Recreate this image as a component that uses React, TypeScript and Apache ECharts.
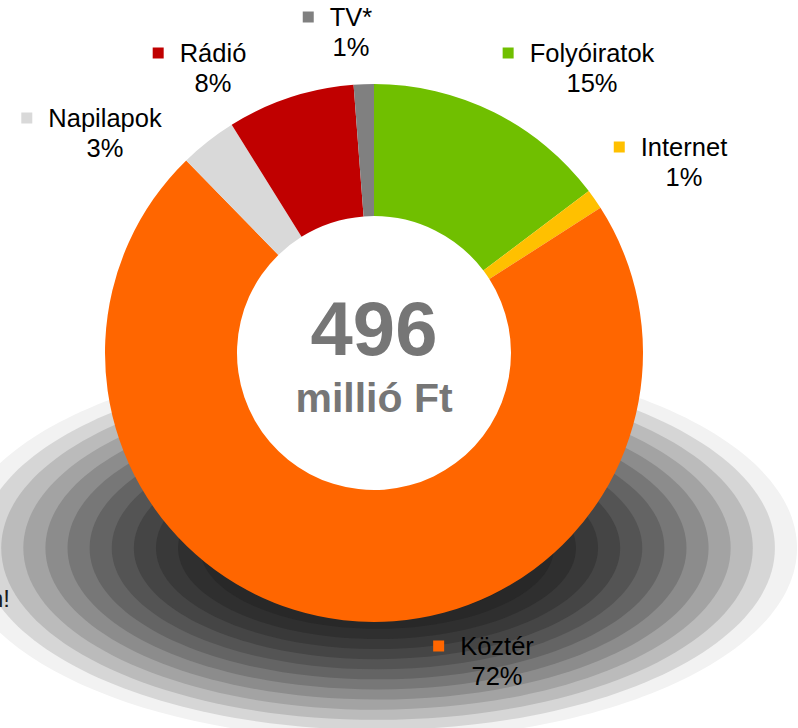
import React, { useEffect, useRef } from "react";
import * as echarts from "echarts";

const names = ["Folyóiratok", "Internet", "Köztér", "Napilapok", "Rádió", "TV*"];
const values = [73, 6, 356, 17, 38, 6]; // millió Ft
const colors = ["#70bf00", "#ffc000", "#ff6600", "#d9d9d9", "#c00000", "#808080"];
const unitLabel = "millió Ft";
const sideNote = "n!";

// label anchor positions (layout only)
const labelAnchors = [
  [592, 68],
  [684, 162],
  [497, 661],
  [105, 133],
  [213, 68],
  [351, 32],
];

export default function App() {
  const ref = useRef<HTMLDivElement>(null);
  useEffect(() => {
    document.body.style.margin = "0";
    const chart = echarts.init(ref.current!, null, { renderer: "svg" });
    const total = values.reduce((a, b) => a + b, 0);
    const font = "'Liberation Sans', Arial, sans-serif";

    // shadow rings
    const N = 19;
    const cx = 377, cy = 548, RX = 420, RY = 192;
    const rings: any[] = [];
    for (let i = 0; i < N; i++) {
      const t = 1 - i / N;
      const u = Math.max(0, (t - 0.35) / 0.65);
      const c = Math.min(242, Math.round(36 + 206 * Math.pow(u, 1.75)));
      const hex = c.toString(16).padStart(2, "0");
      rings.push({
        type: "ellipse",
        z: 0,
        silent: true,
        shape: { cx, cy, rx: RX * t, ry: RY * t },
        style: { fill: `#${hex}${hex}${hex}` },
      });
    }

    const rich: any = {
      g: { width: 16 },
      g2: { width: 27 },
      n: { fontSize: 25.5, lineHeight: 30, color: "#000", fontFamily: font },
      p: { fontSize: 25.5, lineHeight: 30, color: "#000", fontFamily: font },
    };
    colors.forEach((c, i) => {
      rich["m" + i] = { width: 11, height: 11, backgroundColor: c, verticalAlign: "middle" };
    });

    chart.setOption({
      animation: false,
      graphic: [
        ...rings,
        {
          type: "circle",
          z: 1,
          silent: true,
          shape: { cx: 374, cy: 353, r: 138 },
          style: { fill: "#ffffff" },
        },
        {
          type: "text",
          z: 20,
          x: 374,
          y: 328,
          style: {
            text: String(total),
            fontSize: 76,
            fontWeight: "bold",
            fontFamily: font,
            fill: "#767676",
            align: "center",
            verticalAlign: "middle",
          },
        },
        {
          type: "text",
          z: 20,
          x: 374,
          y: 398,
          style: {
            text: unitLabel,
            fontSize: 41,
            fontWeight: "bold",
            fontFamily: font,
            fill: "#767676",
            align: "center",
            verticalAlign: "middle",
          },
        },
        {
          type: "text",
          z: 20,
          x: 10,
          y: 598,
          style: {
            text: sideNote,
            fontSize: 24,
            fontFamily: font,
            fill: "#1a1a1a",
            align: "right",
            verticalAlign: "middle",
          },
        },
      ],
      series: [
        {
          type: "pie",
          z: 5,
          center: [374, 353],
          radius: [137, 269],
          startAngle: 90,
          clockwise: true,
          data: names.map((n, i) => ({
            name: n,
            value: values[i],
            itemStyle: { color: colors[i] },
          })),
          label: {
            show: true,
            position: "outside",
            overflow: "none",
            formatter: (p: any) =>
              `{m${p.dataIndex}| }{g| }{n|${p.name}}{g2| }\n{p|${Math.round((p.value / total) * 100)}%}`,
            rich,
          },
          labelLine: { show: false },
          labelLayout: (params: any) => ({
            x: labelAnchors[params.dataIndex][0],
            y: labelAnchors[params.dataIndex][1],
            align: "center",
            verticalAlign: "middle",
          }),
          emphasis: { disabled: true },
        },
      ],
    });
    return () => chart.dispose();
  }, []);
  return (
    <div
      ref={ref}
      style={{ position: "absolute", left: 0, top: 0, width: 798, height: 728 }}
    />
  );
}
